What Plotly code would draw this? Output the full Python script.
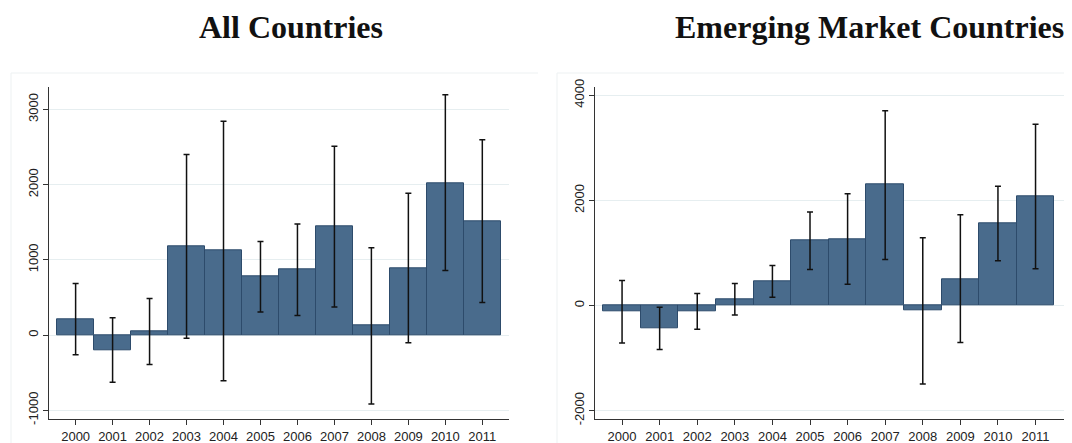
import plotly.graph_objects as go

# The page body adds an 8px margin, so the figure is drawn at (8, 8)
OFF = 8
W, H = 1072 - OFF, 443 - OFF

years = [2000, 2001, 2002, 2003, 2004, 2005, 2006, 2007, 2008, 2009, 2010, 2011]
year_labels = [str(y) for y in years]

# All Countries: bar value, CI upper, CI lower
all_vals = [213, -204, 49, 1178, 1120, 778, 871, 1444, 124, 893, 2022, 1516]
all_hi = [684, 231, 484, 2400, 2844, 1244, 1476, 2511, 1160, 1884, 3196, 2596]
all_lo = [-262, -627, -391, -44, -609, 307, 258, 373, -916, -102, 858, 431]

# Emerging Market Countries
em_vals = [-114, -438, -108, 121, 470, 1238, 1263, 2298, -95, 508, 1562, 2076]
em_hi = [476, -32, 229, 419, 762, 1778, 2127, 3708, 1289, 1727, 2267, 3448]
em_lo = [-711, -838, -451, -178, 159, 686, 406, 876, -1492, -705, 851, 698]

y_ticks_all = [-1000, 0, 1000, 2000, 3000]
y_ticks_em = [-2000, 0, 2000, 4000]

BAR = "#496b8c"
EDGE = "#2d4b6b"
GRID = "#e6eef0"
AXIS = "#333333"


def bar_trace(vals, hi, lo, xa, ya):
    return go.Bar(
        x=years, y=vals, width=1.0,
        marker=dict(color=BAR, line=dict(color=EDGE, width=1)),
        error_y=dict(type="data", symmetric=False,
                     array=[h - v for h, v in zip(hi, vals)],
                     arrayminus=[v - l for v, l in zip(vals, lo)],
                     color="#111111", thickness=1.5, width=3),
        xaxis=xa, yaxis=ya, showlegend=False,
    )


fig = go.Figure()
fig.add_trace(bar_trace(all_vals, all_hi, all_lo, "x", "y"))
fig.add_trace(bar_trace(em_vals, em_hi, em_lo, "x2", "y2"))

px = lambda v: (v - OFF) / W
py = lambda v: 1 - (v - OFF) / H

tickfont = dict(family="Liberation Sans, Arial", size=13, color="#222222")
xcommon = dict(tickvals=years, ticktext=year_labels, showline=True, linecolor=AXIS,
               linewidth=1, ticks="outside", ticklen=5, tickcolor=AXIS,
               showgrid=False, zeroline=False, tickfont=tickfont, tickangle=0,
               automargin=False)
ycommon = dict(showline=True, linecolor=AXIS, linewidth=1, ticks="outside",
               ticklen=5, tickcolor=AXIS, showgrid=True, gridcolor=GRID,
               gridwidth=1, zeroline=False, tickfont=tickfont, tickangle=-90,
               automargin=False)

ydom = [py(419), py(87.3)]
fig.update_layout(
    width=W, height=H, margin=dict(l=0, r=0, t=0, b=0, autoexpand=False),
    paper_bgcolor="white", plot_bgcolor="white", bargap=0,
    xaxis=dict(domain=[px(49), px(509.3)], range=[1999.28, 2011.73], anchor="y", **xcommon),
    yaxis=dict(domain=ydom, range=[-1117, 3294], tickvals=y_ticks_all,
               ticktext=[str(v) for v in y_ticks_all], anchor="x", **ycommon),
    xaxis2=dict(domain=[px(595), 1.0], range=[1999.28, 2011.97], anchor="y2", **xcommon),
    yaxis2=dict(domain=ydom, range=[-2159, 4152], tickvals=y_ticks_em,
                ticktext=[str(v) for v in y_ticks_em], anchor="x2", **ycommon),
)

titlefont = dict(family="Liberation Serif, Times New Roman", size=32, color="#111111", weight="bold")
fig.add_annotation(text="All Countries", x=px(291), y=py(27), xref="paper", yref="paper",
                   xanchor="center", yanchor="middle", showarrow=False, font=titlefont)
fig.add_annotation(text="Emerging Market Countries", x=px(869), y=py(27), xref="paper", yref="paper",
                   xanchor="center", yanchor="middle", showarrow=False, font=titlefont)

# faint outer graph-region frames
FRAME = "#edf1f2"
for x0, x1 in [(11, 538), (557, 1072)]:
    fig.add_shape(type="line", xref="paper", yref="paper", x0=px(x0), x1=px(x1),
                  y0=py(73), y1=py(73), line=dict(color=FRAME, width=1), layer="below")
    fig.add_shape(type="line", xref="paper", yref="paper", x0=px(x0), x1=px(x0),
                  y0=py(73), y1=0, line=dict(color=FRAME, width=1), layer="below")

fig.write_html("out.html")
